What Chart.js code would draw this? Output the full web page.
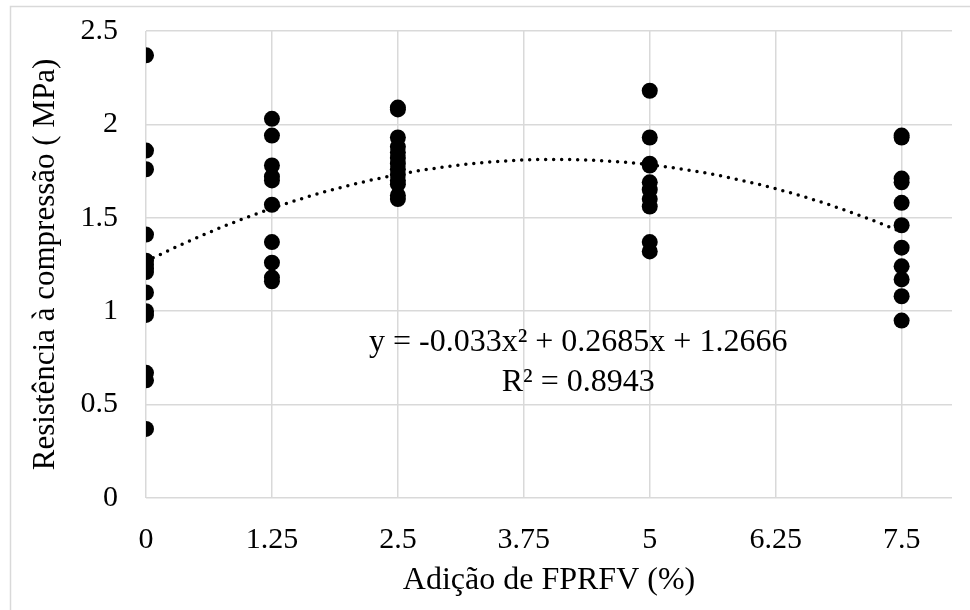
<!DOCTYPE html>
<html>
<head>
<meta charset="utf-8">
<script src="https://cdn.jsdelivr.net/npm/chart.js@4/dist/chart.umd.min.js"></script>
<style>
  html, body { margin: 0; padding: 0; background: #fff; }
  #stage { display: block; }
</style>
</head>
<body>
<canvas id="stage" width="970" height="610"></canvas>
<script>
// adição de FPRFV (%) e resistências medidas (MPa) em cada teor
var adicoes = [0, 1.25, 2.5, 5, 7.5];
var res0   = [2.37, 1.86, 1.76, 1.41, 1.27, 1.25, 1.23, 1.21, 1.10, 1.00, 0.98, 0.67, 0.63, 0.37];
var res125 = [2.03, 1.94, 1.78, 1.72, 1.70, 1.57, 1.37, 1.26, 1.18, 1.16];
var res25  = [2.09, 2.08, 1.93, 1.88, 1.85, 1.82, 1.79, 1.76, 1.73, 1.70, 1.68, 1.62, 1.60];
var res5   = [2.18, 1.93, 1.79, 1.78, 1.69, 1.65, 1.60, 1.56, 1.37, 1.32];
var res75  = [1.94, 1.93, 1.71, 1.69, 1.58, 1.46, 1.34, 1.24, 1.17, 1.08, 0.95];
var xTicks = [0, 1.25, 2.5, 3.75, 5, 6.25, 7.5];

// linha de tendência polinomial: y = -0.033x² + 0.2685x + 1.2666
var coefTendencia = [1.2666, 0.2685, -0.033];
var textoEquacao = 'y = -0.033x\u00B2 + 0.2685x + 1.2666';
var textoR2 = 'R\u00B2 = 0.8943';

var grupos = [res0, res125, res25, res5, res75];
var pontos = [];
grupos.forEach(function (g, i) {
  g.forEach(function (v) { pontos.push({ x: adicoes[i], y: v }); });
});

var tendencia = [];
for (var k = 0; k <= 75; k++) {
  var x = k / 10;
  tendencia.push({ x: x, y: coefTendencia[0] + coefTendencia[1] * x + coefTendencia[2] * x * x });
}

var fonte = 'Liberation Serif, Times New Roman, serif';

// moldura cinza do gráfico + texto da equação
var extras = {
  id: 'extras',
  beforeDraw: function (chart) {
    var c = chart.ctx;
    c.save();
    c.strokeStyle = '#d9d9d9';
    c.lineWidth = 1.5;
    c.strokeRect(10.5, 6.5, chart.width + 20, chart.height + 20);
    c.restore();
  },
  afterDatasetsDraw: function (chart) {
    var c = chart.ctx;
    var xs = chart.scales.x, ys = chart.scales.y;
    var cx = xs.getPixelForValue(4.29);
    c.save();
    c.fillStyle = '#000';
    c.font = '32px ' + fonte;
    c.textAlign = 'center';
    c.textBaseline = 'middle';
    c.fillText(textoEquacao, cx, ys.getPixelForValue(0.83));
    c.fillText(textoR2, cx, ys.getPixelForValue(0.616));
    c.restore();
  }
};

var myChart = new Chart(document.getElementById('stage').getContext('2d'), {
  type: 'scatter',
  data: {
    datasets: [
      {
        label: 'Tendência',
        data: tendencia,
        showLine: true,
        borderColor: '#000',
        borderWidth: 3.5,
        borderDash: [0, 8],
        borderCapStyle: 'round',
        pointRadius: 0,
        pointHoverRadius: 0,
        tension: 0
      },
      {
        label: 'Resistência',
        data: pontos,
        backgroundColor: '#000',
        borderColor: '#000',
        borderWidth: 0,
        pointRadius: 8,
        pointHoverRadius: 8
      }
    ]
  },
  options: {
    responsive: false,
    animation: false,
    layout: { padding: { left: 10, right: 18, top: 31, bottom: 8 } },
    plugins: { legend: { display: false }, tooltip: { enabled: false } },
    scales: {
      x: {
        type: 'linear',
        min: 0,
        max: 8,
        afterBuildTicks: function (scale) {
          scale.ticks = xTicks.map(function (v) { return { value: v }; });
        },
        afterFit: function (scale) {
          scale.height = 104;
          scale.paddingLeft = 0;
          scale.paddingRight = 0;
        },
        grid: { color: '#d9d9d9', lineWidth: 1.5, drawTicks: false },
        border: { display: false },
        ticks: {
          color: '#000',
          padding: 24,
          font: { family: fonte, size: 30 },
          maxRotation: 0,
          callback: function (v) { return String(v); }
        },
        title: {
          display: true,
          text: 'Adição de FPRFV (%)',
          color: '#000',
          font: { family: fonte, size: 32 },
          padding: { top: 0, bottom: 2 }
        }
      },
      y: {
        min: 0,
        max: 2.5,
        afterFit: function (scale) {
          scale.width = 136;
          scale.paddingTop = 0;
          scale.paddingBottom = 0;
        },
        grid: { color: '#d9d9d9', lineWidth: 1.5, drawTicks: false },
        border: { display: false },
        ticks: {
          color: '#000',
          stepSize: 0.5,
          padding: 28,
          font: { family: fonte, size: 30 },
          callback: function (v) { return String(v); }
        },
        title: {
          display: true,
          text: 'Resistência à compressão ( MPa)',
          color: '#000',
          font: { family: fonte, size: 31 },
          padding: { top: 17, bottom: 0 }
        }
      }
    }
  },
  plugins: [extras]
});
</script>
</body>
</html>
